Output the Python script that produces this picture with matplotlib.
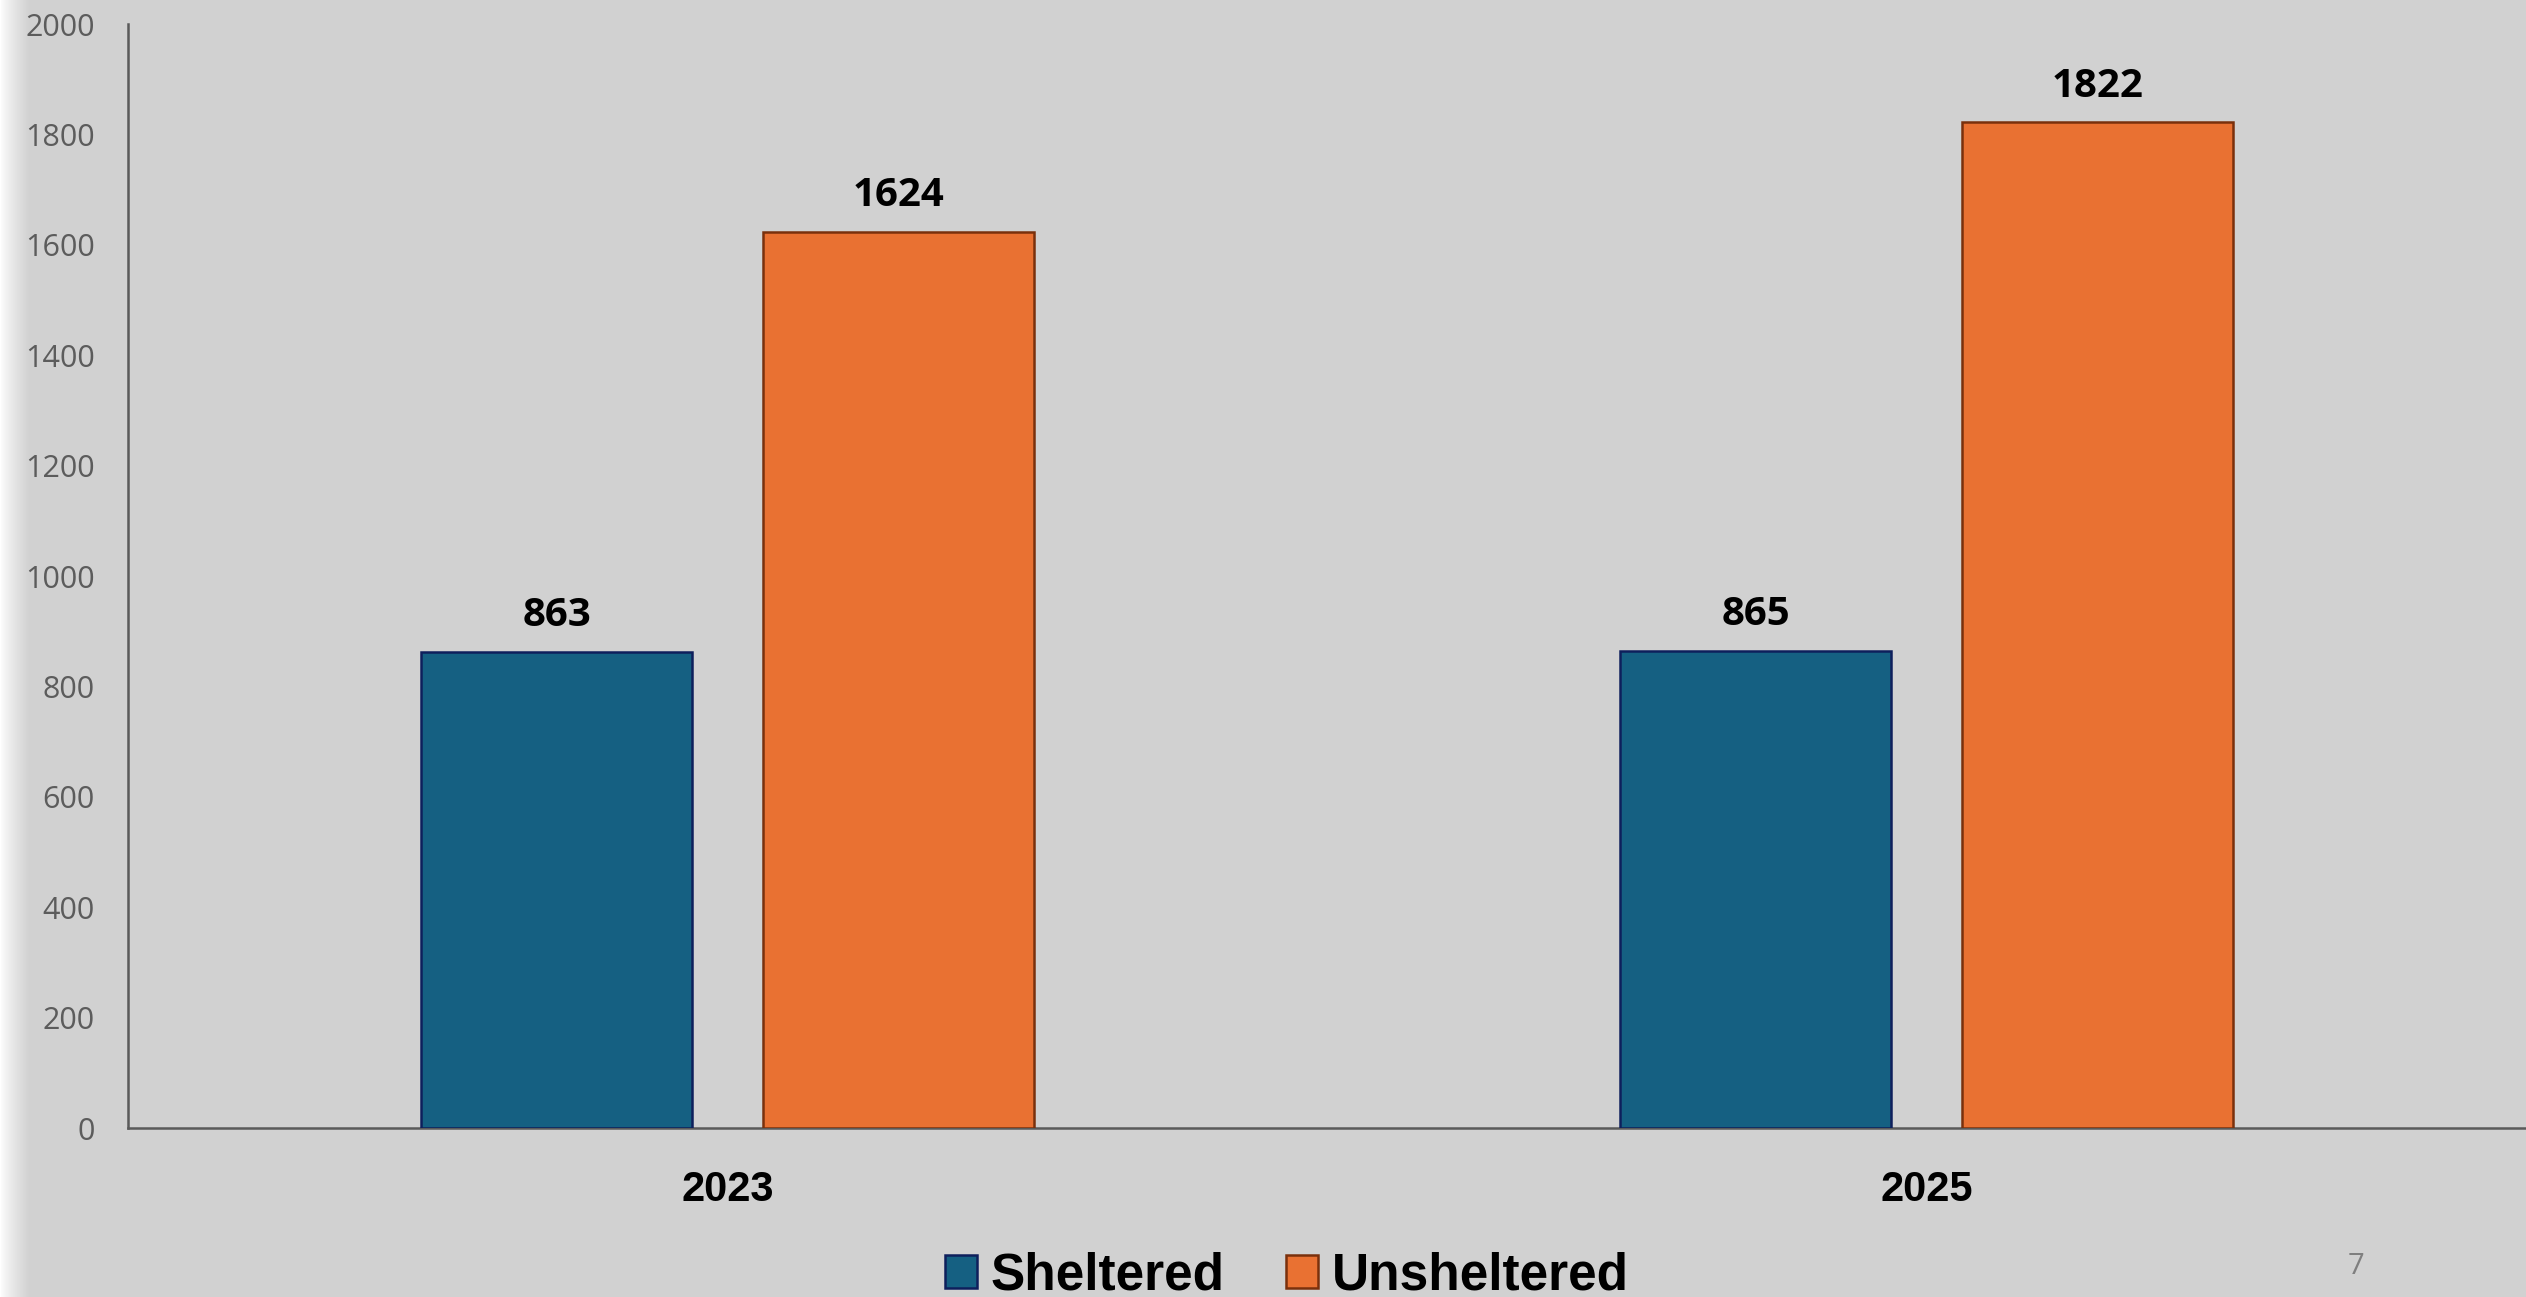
import matplotlib
matplotlib.use("Agg")
import matplotlib.pyplot as plt
import numpy as np
from matplotlib.patches import Patch

years = ["2023", "2025"]
series = ["Sheltered", "Unsheltered"]
sheltered = [863, 865]
unsheltered = [1624, 1822]
y_ticks = [0, 200, 400, 600, 800, 1000, 1200, 1400, 1600, 1800, 2000]

bg = "#d1d1d1"
fill_colors = ["#156082", "#e97132"]
edge_colors = ["#0e1f5c", "#7a300c"]
arial = ["Liberation Sans", "DejaVu Sans"]
sans = ["Open Sans", "DejaVu Sans"]

W, H = 2526, 1297
fig = plt.figure(figsize=(W / 100, H / 100), dpi=100, facecolor=bg)

# soft white fade on the left edge
shade = fig.add_axes([0, 0, 30 / W, 1])
rgb_bg = np.array(matplotlib.colors.to_rgb(bg))
mix = np.linspace(0, 1, 30) ** 0.8
img = np.ones((1, 30, 3))
img[0] = (1 - mix)[:, None] * np.ones(3) + mix[:, None] * rgb_bg
shade.imshow(img, aspect="auto", extent=[0, 1, 0, 1])
shade.axis("off")

ax = fig.add_axes([128 / W, 169 / H, 1 - 128 / W, (1128 - 24) / H])
ax.set_facecolor(bg)

x = np.arange(len(years))
w = 0.226
off = 0.1426
for vals, dx, fc, ec in [(sheltered, -off, fill_colors[0], edge_colors[0]),
                         (unsheltered, off, fill_colors[1], edge_colors[1])]:
    bars = ax.bar(x + dx, vals, width=w, color=fc, edgecolor=ec, linewidth=1.8, zorder=3)
    for b, v in zip(bars, vals):
        ax.annotate(str(v), (b.get_x() + b.get_width() / 2, v), xytext=(0, 12),
                    textcoords="offset points", ha="center", va="bottom",
                    fontsize=29, fontweight="bold", family=sans, color="black")

ax.set_xlim(-0.5, 1.5)
ax.set_ylim(0, 2000)
ax.set_yticks(y_ticks)
ax.set_xticks(x)
ax.set_xticklabels(years, fontsize=30, fontweight="bold", family=arial)
ax.tick_params(axis="x", length=0, pad=30)
ax.tick_params(axis="y", length=0, pad=24, labelsize=22, labelcolor="#5c5c5c")
for lab in ax.get_yticklabels():
    lab.set_family(sans)

for s in ["top", "right"]:
    ax.spines[s].set_visible(False)
for s in ["left", "bottom"]:
    ax.spines[s].set_color("#5a5a5a")
    ax.spines[s].set_linewidth(1.8)

handles = [Patch(facecolor=fill_colors[i], edgecolor=edge_colors[i], linewidth=1.8)
           for i in range(2)]
fig.legend(handles, series, loc="center", bbox_to_anchor=(1287 / W, 1 - 1276 / H),
           ncol=2, frameon=False, prop={"family": arial, "weight": "bold", "size": 37},
           handlelength=0.62, handleheight=0.62, handletextpad=0.27, columnspacing=1.2,
           borderpad=0, borderaxespad=0)

fig.text(2356 / W, 1 - 1266 / H, "7", ha="center", va="center", fontsize=21,
         color="#7f7f7f", family=sans)

fig.savefig("out.png", dpi=100, facecolor=bg)
